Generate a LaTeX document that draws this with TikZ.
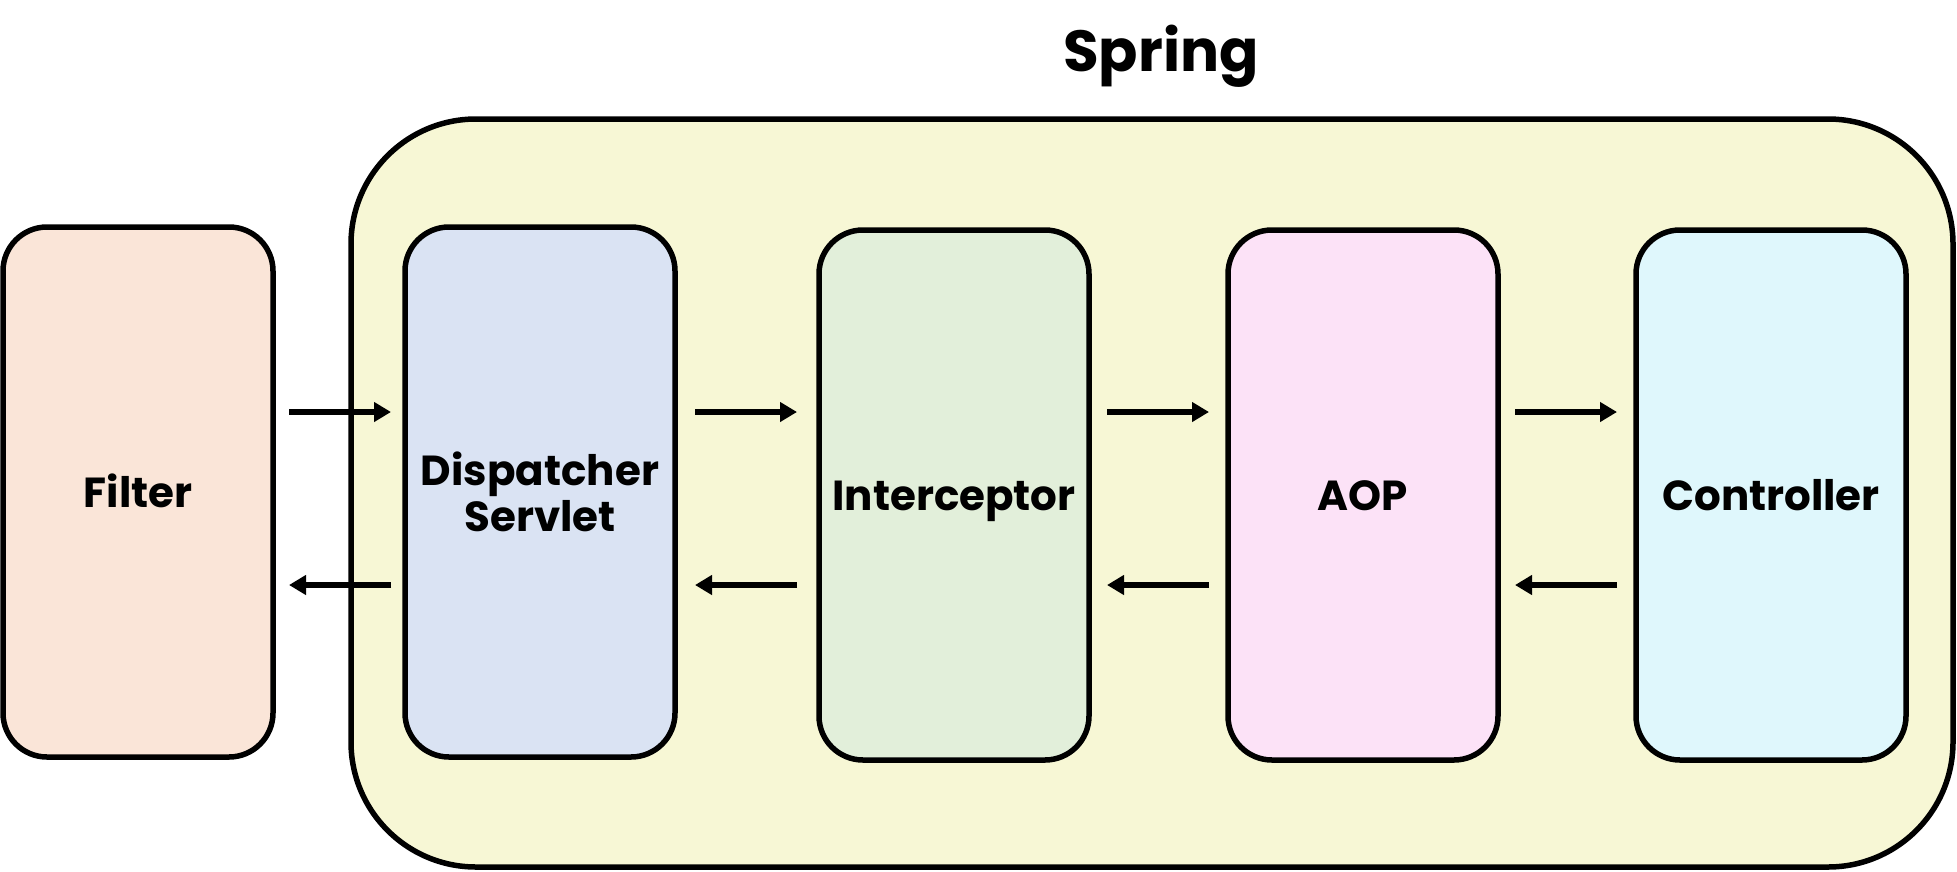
\documentclass[tikz,border=0pt]{standalone}
\usepackage{fontspec}
\setmainfont{Poppins}
\usetikzlibrary{arrows.meta}
\definecolor{cfilter}{HTML}{FAE5D8}
\definecolor{cdisp}{HTML}{DAE3F3}
\definecolor{cinter}{HTML}{E2EFDA}
\definecolor{caop}{HTML}{FCE2F7}
\definecolor{cctrl}{HTML}{DFF7FC}
\definecolor{cspring}{HTML}{F7F7D5}
\tikzset{
  x=1pt, y=-1pt,
  box/.style={draw=black, line width=5.5pt, rounded corners=44pt, minimum width=270pt, minimum height=530pt, inner sep=0pt, align=center, font=\bfseries\fontsize{42}{46}\selectfont},
  oneline/.style={text height=31pt, text depth=0pt},
  flow/.style={line width=6pt, -{Triangle[length=17pt,width=19pt]}},
}
\begin{document}
\begin{tikzpicture}
\useasboundingbox[fill=white] (0,0) rectangle (1957,871);
\node[draw=black, fill=cspring, line width=5.5pt, rounded corners=125pt, minimum width=1602pt, minimum height=748pt, inner sep=0pt] (spring) at (1152,493) {};
\node[font=\bfseries\fontsize{58}{60}\selectfont] (title) at (1161,56) {Spring};
\node[box, oneline, fill=cfilter] (filter) at (138,492) {Filter};
\node[box, fill=cdisp] (disp) at (540,492) {Dispatcher\\Servlet};
\node[box, oneline, fill=cinter] (inter) at (954,495) {Interceptor};
\node[box, oneline, fill=caop] (aop) at (1363,495) {AOP};
\node[box, oneline, fill=cctrl] (ctrl) at (1771,495) {Controller};
\coordinate (a1s) at (289,412); \coordinate (a1e) at (391,412);
\coordinate (a2s) at (695,412); \coordinate (a2e) at (797,412);
\coordinate (a3s) at (1107,412); \coordinate (a3e) at (1209,412);
\coordinate (a4s) at (1515,412); \coordinate (a4e) at (1617,412);
\coordinate (b1s) at (391,585); \coordinate (b1e) at (289,585);
\coordinate (b2s) at (797,585); \coordinate (b2e) at (695,585);
\coordinate (b3s) at (1209,585); \coordinate (b3e) at (1107,585);
\coordinate (b4s) at (1617,585); \coordinate (b4e) at (1515,585);
\foreach \p in {a1,a2,a3,a4,b1,b2,b3,b4} {
  \draw[flow] (\p s) -- (\p e);
}
\end{tikzpicture}
\end{document}
